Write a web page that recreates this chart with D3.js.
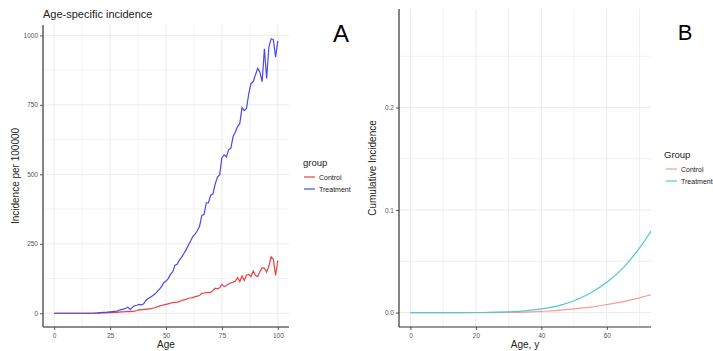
<!DOCTYPE html>
<html><head><meta charset="utf-8">
<script src="https://cdn.jsdelivr.net/npm/d3@7"></script>
<style>
body{margin:0;background:#fff;}
text{font-family:"Liberation Sans",Arial,Helvetica,sans-serif;}
</style></head>
<body><svg id="c" width="713" height="351"></svg>
<script>
// ---- Panel A data: age-specific incidence per 100000, ages 0..100 ----
const agesA = d3.range(0, 101);
const controlA = [0,0,0,0,0,0,0,0,0,0, 0,0,0,0,0,0,0,0,0,0,
  0,1,1,1,2,2,2,3,3,4, 5,5,6,7,6,7,8,10,13,12,
  14,14,16,16,18,20,23,26,28,30, 32,34,36,38,39,40,42,46,48,50,
  54,55,56,60,62,64,72,73,74,74, 75,82,90,88,92,104,96,100,105,110,
  112,116,128,114,134,118,138,140,132,152, 136,132,150,164,162,148,170,203,194,136, 190];
const treatmentA = [0,0,0,0,0,0,0,0,0,0, 0,0,0,0,0,0,0,0,1,1,
  2,2,3,3,4,5,6,7,8,11, 13,15,18,22,13,22,27,29,32,30,
  34,46,53,58,63,69,77,86,96,110, 116,125,140,150,173,176,192,202,215,229,
  245,260,277,285,297,313,352,355,397,398, 425,430,465,490,498,560,570,563,588,594,
  636,652,672,683,740,729,737,790,827,833, 858,881,868,833,952,845,958,988,985,922, 980];
const xTicksA = [0,25,50,75,100];
const yTicksA = [0,250,500,750,1000];
const groupsA = ["Control","Treatment"];

// ---- Panel B data: cumulative incidence, ages 0..75 (view clipped at 70) ----
const agesB = [0,5,10,15,20,25,30,35,40,45,50,55,60,65,70,75];
const controlB = [0,0,0,0,0,0.00007,0.0002,0.0005,0.0012,0.0021,0.0035,0.0053,0.0078,0.0106,0.0143,0.0188];
const treatmentB = [0,0,0,0,0.00004,0.0002,0.0007,0.0016,0.0035,0.0065,0.0115,0.019,0.0295,0.0436,0.063,0.087];
const yMaxB = 0.282;
const xTicksB = [0,20,40,60];
const yTicksB = [0,0.1,0.2];
const groupsB = ["Control","Treatment"];

const svg = d3.select("#c");
const gridCol = "#ebebeb";

function expand(lo, hi){ const r = hi - lo; return [lo - 0.05*r, hi + 0.05*r]; }

// ================= Panel A =================
{
  const L = 43, R = 289, T = 25, B = 327;
  const x = d3.scaleLinear().domain(expand(0,100)).range([L,R]);
  const y = d3.scaleLinear().domain(expand(0,988)).range([B,T]);
  const g = svg.append("g");
  const xMinor = xTicksA.slice(0,-1).map((v,i)=> (v + xTicksA[i+1])/2);
  const yMinor = yTicksA.slice(0,-1).map((v,i)=> (v + yTicksA[i+1])/2);
  g.selectAll(".xm").data(xMinor).join("line").attr("class","xm").attr("x1",d=>x(d)).attr("x2",d=>x(d)).attr("y1",T).attr("y2",B).attr("stroke",gridCol).attr("stroke-width",0.6);
  g.selectAll(".ym").data(yMinor).join("line").attr("class","ym").attr("y1",d=>y(d)).attr("y2",d=>y(d)).attr("x1",L).attr("x2",R).attr("stroke",gridCol).attr("stroke-width",0.6);
  g.selectAll(".xg").data(xTicksA).join("line").attr("class","xg").attr("x1",d=>x(d)).attr("x2",d=>x(d)).attr("y1",T).attr("y2",B).attr("stroke",gridCol).attr("stroke-width",1);
  g.selectAll(".yg").data(yTicksA).join("line").attr("class","yg").attr("y1",d=>y(d)).attr("y2",d=>y(d)).attr("x1",L).attr("x2",R).attr("stroke",gridCol).attr("stroke-width",1);

  const line = d3.line().x((d,i)=>x(agesA[i])).y(d=>y(d));
  const cols = {Control:"#ee4040", Treatment:"#4848ee"};
  g.append("path").attr("d",line(controlA)).attr("fill","none").attr("stroke",cols.Control).attr("stroke-width",1.2);
  g.append("path").attr("d",line(treatmentA)).attr("fill","none").attr("stroke",cols.Treatment).attr("stroke-width",1.2);

  const ax = g.append("g").attr("transform",`translate(0,${B})`).call(d3.axisBottom(x).tickValues(xTicksA).tickFormat(d3.format("d")).tickSize(3).tickPadding(3));
  const ay = g.append("g").attr("transform",`translate(${L},0)`).call(d3.axisLeft(y).tickValues(yTicksA).tickFormat(d3.format("d")).tickSize(3).tickPadding(2));
  [ax,ay].forEach(a=>{
    a.select(".domain").remove();
    a.selectAll(".tick line").attr("stroke","#555");
    a.selectAll(".tick text").attr("fill","#555").style("font-size","6.5px");
  });
  g.append("line").attr("x1",L).attr("x2",L).attr("y1",T).attr("y2",B).attr("stroke","#666").attr("stroke-width",1.6);
  g.append("line").attr("x1",L).attr("x2",R).attr("y1",B).attr("y2",B).attr("stroke","#666").attr("stroke-width",1.6);

  g.append("text").attr("x",L).attr("y",18).text("Age-specific incidence").style("font-size","11px").attr("fill","#222");
  g.append("text").attr("x",(L+R)/2).attr("y",348).attr("text-anchor","middle").text("Age").style("font-size","10px").attr("fill","#222");
  g.append("text").attr("transform",`translate(19,${(T+B)/2}) rotate(-90)`).attr("text-anchor","middle").text("Incidence per 100000").style("font-size","10px").attr("fill","#222");

  g.append("text").attr("x",303).attr("y",166).text("group").style("font-size","9.5px").attr("fill","#222");
  groupsA.forEach((k,i)=>{
    const yy = 177 + i*12;
    g.append("line").attr("x1",304).attr("x2",315).attr("y1",yy).attr("y2",yy).attr("stroke",cols[k]).attr("stroke-width",1.2);
    g.append("text").attr("x",319).attr("y",yy+2.5).text(k).style("font-size","7px").attr("fill","#222");
  });
  g.append("text").attr("x",341).attr("y",42).attr("text-anchor","middle").text("A").style("font-size","24px").attr("fill","#000");
}

// ================= Panel B =================
{
  const L = 399, R = 651, T = 9, B = 327;
  const x = d3.scaleLinear().domain(expand(0,70)).range([L,R]);
  const y = d3.scaleLinear().domain(expand(0,yMaxB)).range([B,T]);
  const g = svg.append("g");
  const xMinor = [10,30,50,70];
  const yMinor = [0.05,0.15,0.25];
  g.selectAll(".xm").data(xMinor).join("line").attr("class","xm").attr("x1",d=>x(d)).attr("x2",d=>x(d)).attr("y1",T).attr("y2",B).attr("stroke",gridCol).attr("stroke-width",0.7);
  g.selectAll(".ym").data(yMinor).join("line").attr("class","ym").attr("y1",d=>y(d)).attr("y2",d=>y(d)).attr("x1",L).attr("x2",R).attr("stroke",gridCol).attr("stroke-width",0.7);
  g.selectAll(".xg").data(xTicksB).join("line").attr("class","xg").attr("x1",d=>x(d)).attr("x2",d=>x(d)).attr("y1",T).attr("y2",B).attr("stroke",gridCol).attr("stroke-width",1);
  g.selectAll(".yg").data(yTicksB).join("line").attr("class","yg").attr("y1",d=>y(d)).attr("y2",d=>y(d)).attr("x1",L).attr("x2",R).attr("stroke",gridCol).attr("stroke-width",1);

  svg.append("clipPath").attr("id","clipB").append("rect").attr("x",L).attr("y",T).attr("width",R-L).attr("height",B-T);
  const line = d3.line().curve(d3.curveMonotoneX).x((d,i)=>x(agesB[i])).y(d=>y(d));
  const cols = {Control:"#f59d96", Treatment:"#4ecad0"};
  const lg = g.append("g").attr("clip-path","url(#clipB)");
  lg.append("path").attr("d",line(controlB)).attr("fill","none").attr("stroke",cols.Control).attr("stroke-width",1.2);
  lg.append("path").attr("d",line(treatmentB)).attr("fill","none").attr("stroke",cols.Treatment).attr("stroke-width",1.2);

  const ax = g.append("g").attr("transform",`translate(0,${B})`).call(d3.axisBottom(x).tickValues(xTicksB).tickSize(3).tickPadding(3));
  const ay = g.append("g").attr("transform",`translate(${L},0)`).call(d3.axisLeft(y).tickValues(yTicksB).tickFormat(d3.format(".1f")).tickSize(3).tickPadding(2));
  [ax,ay].forEach(a=>{
    a.select(".domain").remove();
    a.selectAll(".tick line").attr("stroke","#555");
    a.selectAll(".tick text").attr("fill","#555").style("font-size","6.5px");
  });
  g.append("line").attr("x1",L).attr("x2",L).attr("y1",T).attr("y2",B).attr("stroke","#333").attr("stroke-width",1.2);
  g.append("line").attr("x1",L).attr("x2",R).attr("y1",B).attr("y2",B).attr("stroke","#333").attr("stroke-width",1.2);

  g.append("text").attr("x",(L+R)/2).attr("y",348).attr("text-anchor","middle").text("Age, y").style("font-size","10px").attr("fill","#222");
  g.append("text").attr("transform",`translate(376,${(T+B)/2}) rotate(-90)`).attr("text-anchor","middle").text("Cumulative Incidence").style("font-size","10px").attr("fill","#222");

  g.append("text").attr("x",664).attr("y",158).text("Group").style("font-size","9.5px").attr("fill","#222");
  groupsB.forEach((k,i)=>{
    const yy = 169 + i*12;
    g.append("line").attr("x1",666).attr("x2",677).attr("y1",yy).attr("y2",yy).attr("stroke",cols[k]).attr("stroke-width",1.2);
    g.append("text").attr("x",681).attr("y",yy+2.5).text(k).style("font-size","7px").attr("fill","#222");
  });
  g.append("text").attr("x",685).attr("y",40).attr("text-anchor","middle").text("B").style("font-size","22px").attr("fill","#000");
}
</script></body></html>
